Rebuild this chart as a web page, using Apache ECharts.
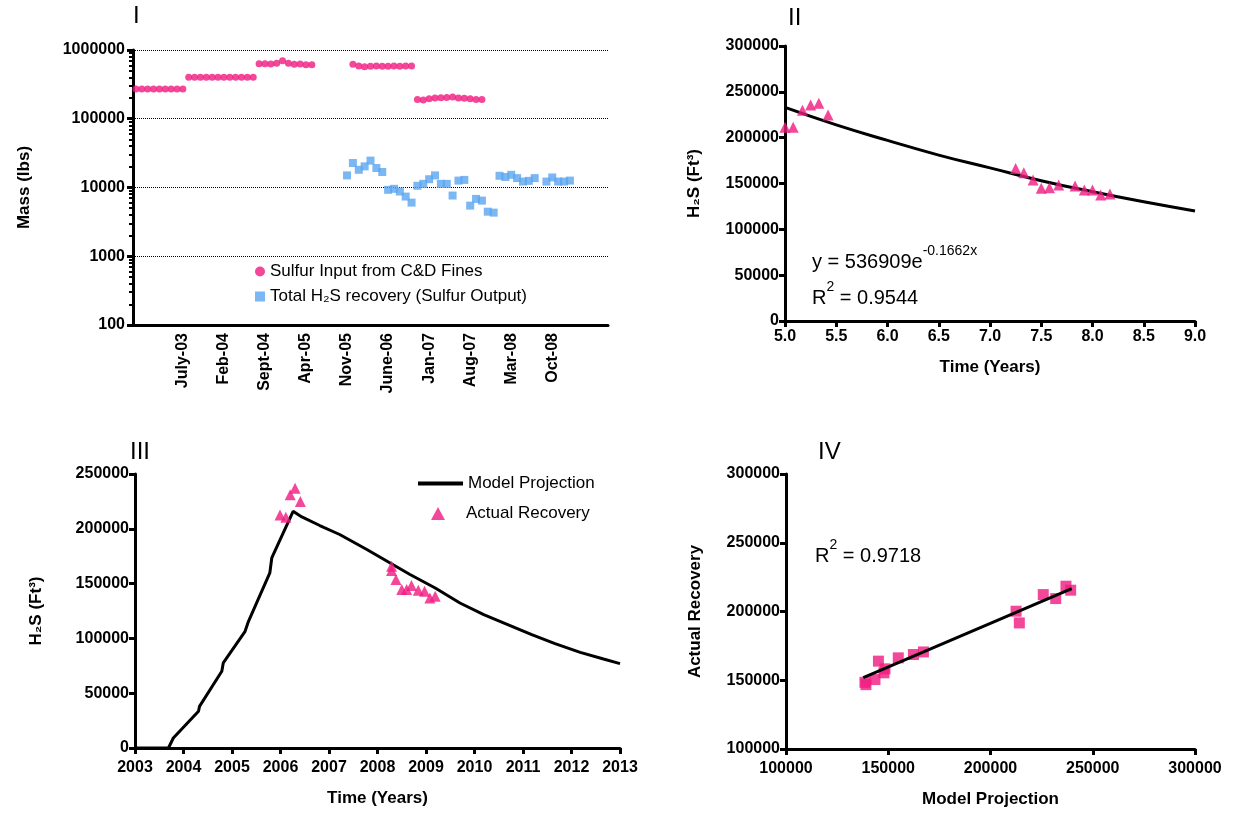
<!DOCTYPE html>
<html><head><meta charset="utf-8">
<script src="https://cdn.jsdelivr.net/npm/echarts@6/dist/echarts.min.js"></script>
<style>html,body{margin:0;padding:0;background:#fff}#c{width:1238px;height:816px}</style>
</head><body><div id="c"></div>
<script>
// ---- panel I : monthly mass, month index 0 = Nov-02
var sulfurInput = [[0,270000],[1,270000],[2,270000],[3,270000],[4,270000],[5,270000],[6,270000],[7,270000],[8,270000],
  [9,400000],[10,400000],[11,400000],[12,400000],[13,400000],[14,400000],[15,400000],[16,400000],[17,400000],[18,400000],[19,400000],[20,400000],
  [21,630000],[22,630000],[23,625000],[24,640000],[25,700000],[26,640000],[27,620000],[28,625000],[29,610000],[30,610000],
  [37,620000],[38,585000],[39,570000],[40,580000],[41,585000],[42,580000],[43,580000],[44,585000],[45,580000],[46,585000],[47,585000],
  [48,190000],[49,188000],[50,195000],[51,200000],[52,202000],[53,203000],[54,208000],[55,200000],[56,198000],[57,195000],[58,190000],[59,190000]];
var sulfurOutput = [[36,15000],[37,22700],[38,18100],[39,20300],[40,24600],[41,19200],[42,16800],[43,9250],[44,9560],[45,8740],[46,7380],[47,6030],
  [48,10600],[49,11300],[50,13200],[51,15000],[52,11300],[53,11300],[54,7640],[55,12600],[56,12900],[57,5450],[58,6830],[59,6450],[60,4450],[61,4310],
  [62,14800],[63,14200],[64,15300],[65,13700],[66,12200],[67,12500],[68,13700],[70,12200],[71,14000],[72,12200],[73,12200],[74,12600]];
var monthCount = 81;
var tickMonths = [8,15,22,29,36,43,50,57,64,71];
var tickLabels = ['July-03','Feb-04','Sept-04','Apr-05','Nov-05','June-06','Jan-07','Aug-07','Mar-08','Oct-08'];

// ---- panel II : fit
var recoveryYears = [[5.0,211300],[5.08,211300],[5.17,230000],[5.25,235600],[5.33,237500],[5.42,224700],[7.25,166500],[7.33,161800],[7.42,153800],
  [7.50,144700],[7.58,145500],[7.67,148400],[7.83,147300],[7.92,142900],[8.0,142900],[8.08,137500],[8.17,138500]];
var fitCurve = [[5,233000],[5.5,214000],[6,197000],[6.5,181000],[7,167000],[7.5,153000],[8,141000],[8.5,130000],[9,120000]];

// ---- panel III : model vs actual
var modelProjection = [[2003,0],[2003.69,0],[2003.79,9100],[2004.31,33500],[2004.33,38000],[2004.79,70000],[2004.82,77600],[2005.27,106500],
  [2005.34,115600],[2005.78,159700],[2005.82,173400],[2006.26,216000],[2006.44,210800],[2006.81,203000],[2007.22,194800],[2007.78,181100],
  [2008.67,158300],[2009.19,146000],[2009.70,132300],[2010.19,121700],[2010.66,113100],[2011.18,103400],[2011.66,95200],[2012.18,87300],
  [2012.66,81200],[2013,77000]];
var actualRecovery = [[2005.99,212700],[2006.11,210600],[2006.2,231000],[2006.3,237000],[2006.41,224900],[2008.29,165900],[2008.29,162000],
  [2008.38,153800],[2008.5,144700],[2008.6,144700],[2008.7,148300],[2008.84,144000],[2008.97,143000],[2009.08,136900],[2009.19,138400]];

// ---- panel IV : actual vs model
var compare = [[138600,148500],[139100,146800],[143500,150500],[145200,163900],[147900,155400],[148400,158300],[154900,166300],[162300,168700],
  [167200,170600],[212500,200200],[214100,191700],[225800,212300],[231900,209400],[236900,218400],[239200,215500]];
var compareFit = [[137800,151900],[239700,216700]];

var F = 'Liberation Sans, Arial, sans-serif';
var pink = '#f01a80', blue = '#5aa5f0';
var catNames = [];
for (var i = 0; i < monthCount; i++) {
  var k = tickMonths.indexOf(i);
  catNames.push(k >= 0 ? tickLabels[k] : '');
}
var lab = {color:'#000', fontFamily:F, fontWeight:'bold', fontSize:16};
function plain(v) { return String(v); }
function vAxis(gi, min, max, interval, extra) {
  var a = {gridIndex:gi, type:'value', min:min, max:max, interval:interval,
    axisLine:{show:true, lineStyle:{color:'#000', width:3}},
    axisTick:{show:true, length:6, lineStyle:{color:'#000', width:3}},
    axisLabel:Object.assign({margin:6, formatter:plain}, lab), splitLine:{show:false},
    nameTextStyle:Object.assign({}, lab, {fontSize:17}), nameLocation:'middle'};
  return Object.assign(a, extra || {});
}

var option = {
  animation:false,
  textStyle:{fontFamily:F},
  grid:[
    {left:133, top:50, width:475, height:275},
    {left:785, top:46, width:410, height:275},
    {left:135, top:474, width:485, height:274},
    {left:786, top:474, width:409, height:275}
  ],
  xAxis:[
    {gridIndex:0, type:'category', data:catNames, boundaryGap:true,
      axisLine:{lineStyle:{color:'#000', width:3}}, axisTick:{show:false},
      axisLabel:Object.assign({rotate:90, interval:0, margin:8}, lab), splitLine:{show:false}},
    vAxis(1, 5, 9, 0.5, {name:'Time (Years)', nameGap:38, axisLabel:Object.assign({margin:8, formatter:function(v){return v.toFixed(1);}}, lab)}),
    vAxis(2, 2003, 2013, 1, {name:'Time (Years)', nameGap:42, axisLabel:Object.assign({margin:12, formatter:plain}, lab)}),
    vAxis(3, 100000, 300000, 50000, {name:'Model Projection', nameGap:42, axisLabel:Object.assign({margin:12, formatter:plain}, lab)})
  ],
  yAxis:[
    {gridIndex:0, type:'log', min:100, max:1000000, logBase:10, name:'Mass (lbs)', nameLocation:'middle', nameGap:100,
      nameTextStyle:Object.assign({}, lab, {fontSize:17}),
      axisLine:{show:true, lineStyle:{color:'#000', width:3}},
      axisTick:{show:true, length:6, lineStyle:{color:'#000', width:3}},
      minorTick:{show:true, splitNumber:9, length:4, lineStyle:{color:'#000', width:2}},
      axisLabel:Object.assign({margin:8, formatter:plain}, lab),
      splitLine:{show:true, lineStyle:{color:'#000', type:'dotted', width:1}}},
    vAxis(1, 0, 300000, 50000, {name:'H₂S (Ft³)', nameGap:82}),
    vAxis(2, 0, 250000, 50000, {name:'H₂S (Ft³)', nameGap:90}),
    vAxis(3, 100000, 300000, 50000, {name:'Actual Recovery', nameGap:82})
  ],
  legend:[
    {left:250, top:258, orient:'vertical', itemGap:8, itemWidth:10, itemHeight:10,
      textStyle:{fontFamily:F, fontSize:17, color:'#000'},
      data:[{name:'Sulfur Input from C&D Fines', icon:'circle'}, {name:'Total H₂S recovery (Sulfur Output)', icon:'rect'}]},
    {left:413, top:470, itemWidth:45, itemHeight:4, textStyle:{fontFamily:F, fontSize:17, color:'#000'},
      data:[{name:'Model Projection', icon:'rect'}]},
    {left:426, top:500, itemWidth:14, itemHeight:13, itemGap:20, textStyle:{fontFamily:F, fontSize:17, color:'#000', padding:[0,0,0,16]},
      data:[{name:'Actual Recovery', icon:'triangle'}]}
  ],
  series:[
    {name:'Sulfur Input from C&D Fines', type:'scatter', xAxisIndex:0, yAxisIndex:0, symbol:'circle', symbolSize:7,
      itemStyle:{color:pink}, data:sulfurInput},
    {name:'Total H₂S recovery (Sulfur Output)', type:'scatter', xAxisIndex:0, yAxisIndex:0, symbol:'rect', symbolSize:8,
      itemStyle:{color:blue}, data:sulfurOutput},
    {type:'scatter', xAxisIndex:1, yAxisIndex:1, symbol:'triangle', symbolSize:11, itemStyle:{color:pink}, data:recoveryYears, clip:false},
    {type:'line', xAxisIndex:1, yAxisIndex:1, smooth:true, showSymbol:false, lineStyle:{color:'#000', width:3}, data:fitCurve, z:1},
    {name:'Model Projection', type:'line', xAxisIndex:2, yAxisIndex:2, symbol:'none',
      itemStyle:{color:'#000'}, lineStyle:{color:'#000', width:3}, data:modelProjection, z:1},
    {name:'Actual Recovery', type:'scatter', xAxisIndex:2, yAxisIndex:2, symbol:'triangle', symbolSize:11, itemStyle:{color:pink}, data:actualRecovery},
    {type:'scatter', xAxisIndex:3, yAxisIndex:3, symbol:'rect', symbolSize:11, itemStyle:{color:pink}, data:compare},
    {type:'line', xAxisIndex:3, yAxisIndex:3, symbol:'none', lineStyle:{color:'#000', width:3}, data:compareFit, z:3}
  ],
  graphic:[
    {type:'text', left:133, top:4, style:{text:'I', font:'24px ' + F, fill:'#000'}},
    {type:'text', left:788, top:6, style:{text:'II', font:'24px ' + F, fill:'#000'}},
    {type:'text', left:130, top:440, style:{text:'III', font:'24px ' + F, fill:'#000'}},
    {type:'text', left:818, top:440, style:{text:'IV', font:'24px ' + F, fill:'#000'}},
    {type:'text', left:812, top:244, style:{text:'y = 536909e{p|-0.1662x}', font:'20px ' + F, fill:'#000',
      rich:{p:{fontFamily:F, fontSize:14, verticalAlign:'top', padding:[-8,0,0,0]}}}},
    {type:'text', left:812, top:280, style:{text:'R{p|2} = 0.9544', font:'20px ' + F, fill:'#000',
      rich:{p:{fontFamily:F, fontSize:14, verticalAlign:'top', padding:[-8,0,0,0]}}}},
    {type:'text', left:815, top:538, style:{text:'R{p|2} = 0.9718', font:'20px ' + F, fill:'#000',
      rich:{p:{fontFamily:F, fontSize:14, verticalAlign:'top', padding:[-8,0,0,0]}}}}
  ]
};
echarts.init(document.getElementById('c')).setOption(option);
</script></body></html>
